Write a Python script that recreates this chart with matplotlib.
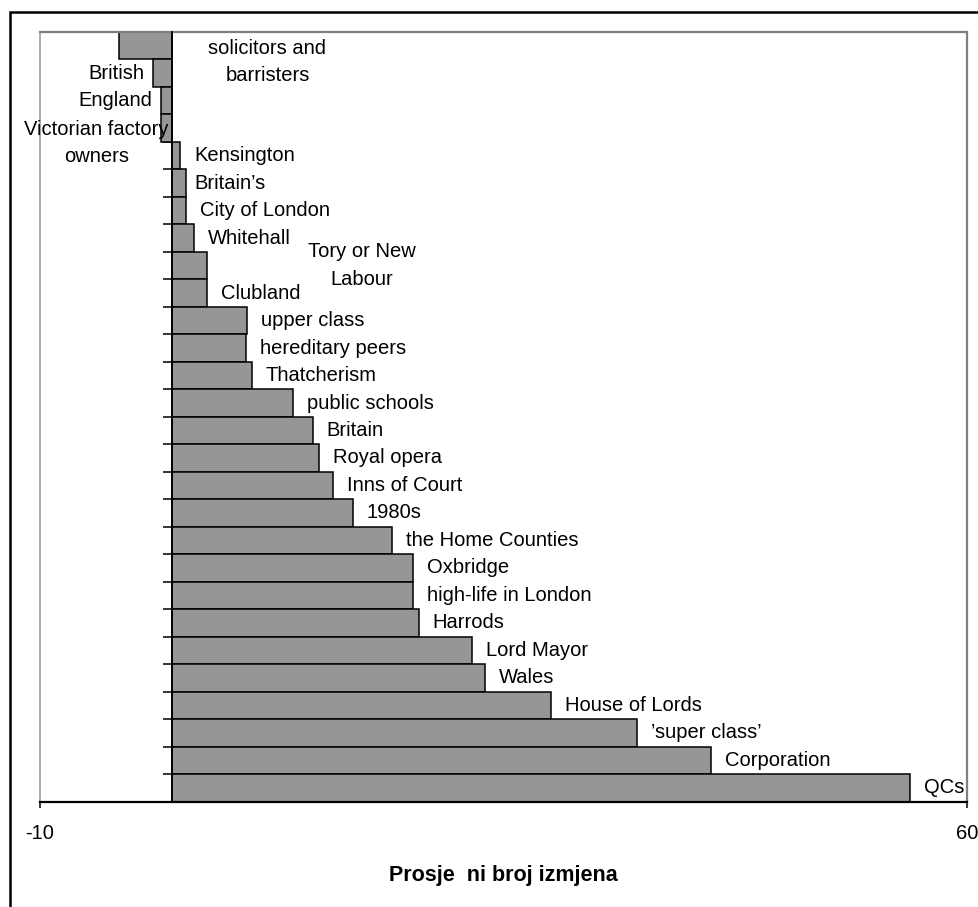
import numpy as np
import matplotlib
matplotlib.use("Agg")
import matplotlib.pyplot as plt
from matplotlib.patches import Rectangle

plt.rcParams['font.family'] = ['Liberation Sans', 'DejaVu Sans']
plt.rcParams['axes.unicode_minus'] = False

# categories, top to bottom
labels = ["solicitors and\nbarristers", "British", "England", "Victorian factory\nowners",
          "Kensington", "Britain\u2019s", "City of London", "Whitehall", "Tory or New\nLabour",
          "Clubland", "upper class", "hereditary peers", "Thatcherism", "public schools",
          "Britain", "Royal opera", "Inns of Court", "1980s", "the Home Counties",
          "Oxbridge", "high-life in London", "Harrods", "Lord Mayor", "Wales",
          "House of Lords", "\u2019super class\u2019", "Corporation", "QCs"]
values = [-4.0, -1.5, -0.9, -0.9, 0.6, 1.05, 1.0, 1.6, 2.6, 2.6, 5.6, 5.55, 6.0, 9.1,
          10.6, 11.1, 12.1, 13.6, 16.6, 18.2, 18.2, 18.6, 22.6, 23.6, 28.6, 35.1, 40.7, 55.7]
xticks = [-10, 60]
xlabel = "Prosje  ni broj izmjena"

# label placement tweaks (offset in pixels from bar end, alignment)
special = {
    0: (148, -16, 'center'),
    1: (-8, 0, 'right'),
    2: (-8, 0, 'right'),
    3: (-64, -15, 'center'),
    5: (8, 0, 'left'),
    8: (155, 0, 'center'),
}

fig = plt.figure(figsize=(9.79, 9.07), dpi=100)
ax = fig.add_axes([40 / 979, 1 - 801.5 / 907, 927 / 979, 769.5 / 907])

y = np.arange(len(values))
ax.barh(y, values, height=1.0, color='#969696', edgecolor='black', linewidth=1.1, zorder=2)

ax.set_xlim(-10, 60)
ax.set_ylim(len(values) - 0.5, -0.5)

# category axis sits at zero
ax.spines['left'].set_position(('data', 0))
ax.spines['left'].set_color('black')
ax.spines['left'].set_linewidth(1.3)
ax.spines['left'].set_zorder(3)
ax.spines['bottom'].set_linewidth(1.6)
for s in ['top', 'right']:
    ax.spines[s].set_color('#808080')
    ax.spines[s].set_linewidth(1.6)
ax.plot([0, 0], [0, 1], transform=ax.transAxes, color='#a0a0a0', lw=1.2, clip_on=False)

ax.set_yticks(np.arange(-0.5, len(values), 1.0))
ax.set_yticklabels([])
ax.tick_params(axis='y', direction='out', length=6.5, width=1.1, color='black')
ax.set_xticks(xticks)
ax.tick_params(axis='x', direction='out', length=4, width=1.1, pad=12, labelsize=14.5)
ax.set_xlabel(xlabel, fontsize=15.5, fontweight='bold', labelpad=16)

for i, (lab, v) in enumerate(zip(labels, values)):
    dx, dy, ha = special.get(i, (14, 0, 'left'))
    ax.annotate(lab, xy=(v, i), xytext=(dx, dy), textcoords='offset pixels',
                ha=ha, va='center', fontsize=14.5, linespacing=1.55,
                multialignment='center', zorder=4)

# outer chart border
fig.patches.append(Rectangle((10 / 979, -0.1), 1.2, 1.1 - 12 / 907,
                             transform=fig.transFigure, fill=False,
                             edgecolor='black', linewidth=1.8))

fig.savefig("out.png", dpi=100, facecolor='white')
